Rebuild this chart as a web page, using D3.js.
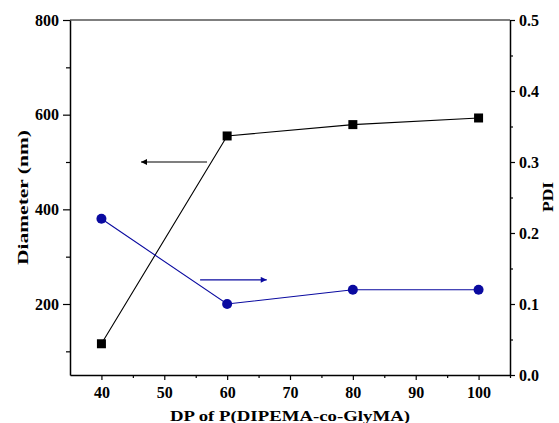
<!DOCTYPE html>
<html><head><meta charset="utf-8">
<script src="https://cdn.jsdelivr.net/npm/d3@7"></script>
<style>
body{margin:0;background:#fff;}
svg text{font-family:'Liberation Serif','Times New Roman',Times,serif !important;}
</style></head>
<body><svg id="c" width="559" height="423"></svg>
<script>
const dp = [40, 60, 80, 100];
const diameter = [116, 555, 579, 593];
const pdi = [0.22, 0.10, 0.12, 0.12];
const xTicks = [40, 50, 60, 70, 80, 90, 100];
const yLeftTicks = [200, 400, 600, 800];
const yRightTicks = [0.0, 0.1, 0.2, 0.3, 0.4, 0.5];
const blackArrow = {x1: 56.8, x2: 46.3, y: 500};
const blueArrow = {x1: 55.7, x2: 66.3, y: 0.134};

const FONT = "'Liberation Serif', 'Times New Roman', Times, serif";
const svg = d3.select("#c");
const L = 70, R = 510, T = 20, B = 375;
const x = d3.scaleLinear().domain([35, 105]).range([L, R]);
const yl = d3.scaleLinear().domain([50, 800]).range([B, T]);
const yr = d3.scaleLinear().domain([0, 0.5]).range([B, T]);
const blue = "#0a0aa0";

const defs = svg.append("defs");
function marker(id, color){
  defs.append("marker").attr("id", id).attr("viewBox","0 0 10 10")
    .attr("refX",10).attr("refY",5).attr("markerWidth",9).attr("markerHeight",6)
    .attr("markerUnits","userSpaceOnUse").attr("orient","auto")
    .append("path").attr("d","M0,0 L10,5 L0,10 Z").attr("fill",color);
}
marker("ab","#000"); marker("au", blue);

svg.append("line").attr("x1",L).attr("x2",R).attr("y1",T).attr("y2",T).attr("stroke","#000").attr("stroke-width",1.2);

function styleAxis(g){
  g.attr("font-family", FONT);
  g.selectAll(".domain").attr("stroke","#000").attr("stroke-width",1.5);
  g.selectAll("line").attr("stroke","#000").attr("stroke-width",1.2);
  g.selectAll("text").attr("font-size",16).attr("font-weight","bold").attr("font-family",FONT).attr("fill","#000");
}
const gx = svg.append("g").attr("transform",`translate(0,${B})`)
  .call(d3.axisBottom(x).tickValues(xTicks).tickSize(5).tickPadding(7).tickSizeOuter(0).tickFormat(d3.format("d")));
styleAxis(gx);
svg.append("g").attr("transform",`translate(0,${B})`)
  .call(d3.axisBottom(x).tickValues(d3.range(45,106,10)).tickSize(3).tickFormat("").tickSizeOuter(0))
  .call(g=>{g.select(".domain").remove(); g.selectAll("line").attr("stroke","#000").attr("stroke-width",1.2);});

const gl = svg.append("g").attr("transform",`translate(${L},0)`)
  .call(d3.axisLeft(yl).tickValues(yLeftTicks).tickSize(7).tickPadding(4).tickSizeOuter(0));
styleAxis(gl);
svg.append("g").attr("transform",`translate(${L},0)`)
  .call(d3.axisLeft(yl).tickValues([100,300,500,700]).tickSize(4).tickFormat("").tickSizeOuter(0))
  .call(g=>{g.select(".domain").remove(); g.selectAll("line").attr("stroke","#000").attr("stroke-width",1.2);});

const gr = svg.append("g").attr("transform",`translate(${R},0)`)
  .call(d3.axisRight(yr).tickValues(yRightTicks).tickSize(5).tickPadding(4).tickSizeOuter(0).tickFormat(d3.format(".1f")));
styleAxis(gr);
svg.append("g").attr("transform",`translate(${R},0)`)
  .call(d3.axisRight(yr).tickValues([0.05,0.15,0.25,0.35,0.45]).tickSize(3).tickFormat("").tickSizeOuter(0))
  .call(g=>{g.select(".domain").remove(); g.selectAll("line").attr("stroke","#000").attr("stroke-width",1.2);});

function title(sel){ return sel.attr("font-family",FONT).attr("font-weight","bold").attr("font-size",15).attr("fill","#000").attr("text-anchor","middle").attr("lengthAdjust","spacingAndGlyphs"); }
svg.append("text").attr("x",(L+R)/2).attr("y",421).call(title).attr("textLength",240)
  .text("DP of P(DIPEMA-co-GlyMA)");
svg.append("text").attr("transform",`translate(28,${(T+B)/2}) rotate(-90)`).call(title).attr("textLength",135)
  .text("Diameter (nm)");
svg.append("text").attr("transform",`translate(553,197) rotate(-90)`).call(title).attr("textLength",30)
  .text("PDI");

const idx = d3.range(dp.length);
svg.append("path").attr("d", d3.line().x(i=>x(dp[i])).y(i=>yl(diameter[i]))(idx))
  .attr("fill","none").attr("stroke","#000").attr("stroke-width",1.1);
svg.selectAll(".sq").data(idx).enter().append("rect")
  .attr("x",i=>x(dp[i])-4.5).attr("y",i=>yl(diameter[i])-4.5).attr("width",9).attr("height",9).attr("fill","#000");

svg.append("path").attr("d", d3.line().x(i=>x(dp[i])).y(i=>yr(pdi[i]))(idx))
  .attr("fill","none").attr("stroke",blue).attr("stroke-width",1.1);
svg.selectAll(".ci").data(idx).enter().append("circle")
  .attr("cx",i=>x(dp[i])).attr("cy",i=>yr(pdi[i])).attr("r",5).attr("fill",blue);

svg.append("line").attr("x1",x(blackArrow.x1)).attr("x2",x(blackArrow.x2))
  .attr("y1",yl(blackArrow.y)).attr("y2",yl(blackArrow.y))
  .attr("stroke","#000").attr("stroke-width",1.1).attr("marker-end","url(#ab)");
svg.append("line").attr("x1",x(blueArrow.x1)).attr("x2",x(blueArrow.x2))
  .attr("y1",yr(blueArrow.y)).attr("y2",yr(blueArrow.y))
  .attr("stroke",blue).attr("stroke-width",1.1).attr("marker-end","url(#au)");
</script></body></html>
